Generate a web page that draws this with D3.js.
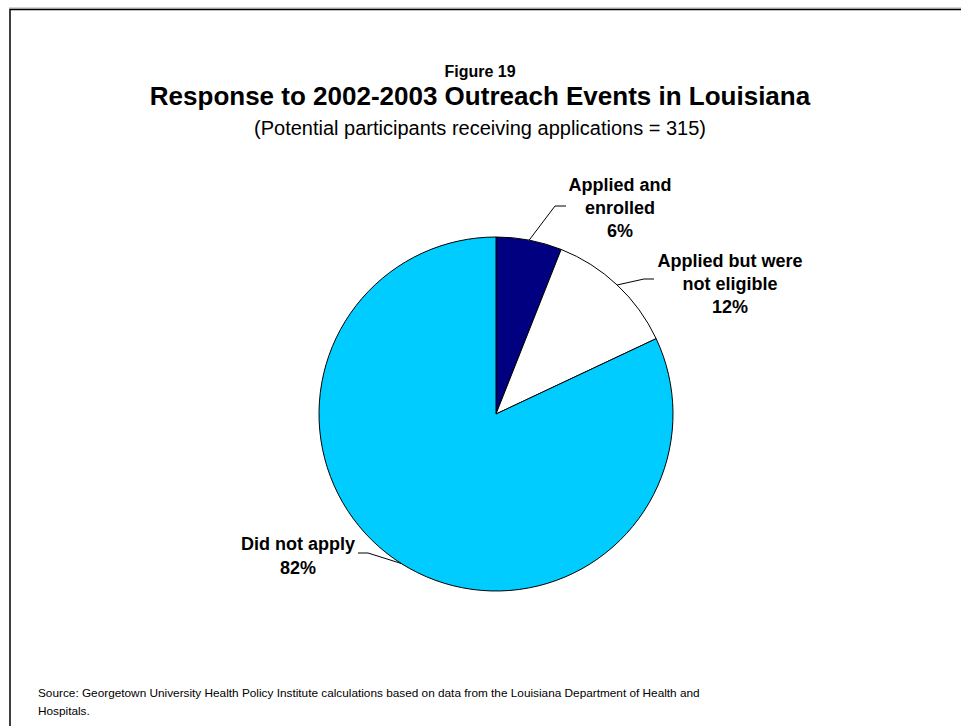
<!DOCTYPE html>
<html>
<head>
<meta charset="utf-8">
<script src="https://cdn.jsdelivr.net/npm/d3@7"></script>
<style>
  html, body { margin: 0; padding: 0; background: #fff; }
  svg { display: block; }
  text { font-family: Arial, "Liberation Sans", Helvetica, sans-serif; fill: #000; }
</style>
</head>
<body>
<svg id="chart" width="961" height="726"></svg>
<script>
// Response categories, in clockwise order from 12 o'clock
const categories = ["Applied and enrolled", "Applied but were not eligible", "Did not apply"];
const shares = [6, 12, 82];
const sliceColors = ["#000080", "#ffffff", "#00ccff"];
// Label lines shown beside each slice
const labelLines = [
  ["Applied and", "enrolled", "6%"],
  ["Applied but were", "not eligible", "12%"],
  ["Did not apply", "82%"]
];

const svg = d3.select("#chart");

// Page frame
svg.append("line").attr("x1", 9).attr("x2", 961).attr("y1", 8).attr("y2", 8)
  .attr("stroke", "#aaa").attr("stroke-width", 1);
svg.append("rect").attr("x", 10).attr("y", 9.5).attr("width", 960).attr("height", 730)
  .attr("fill", "none").attr("stroke", "#000").attr("stroke-width", 1.5);

// Titles
svg.append("text").attr("x", 480).attr("y", 77).attr("text-anchor", "middle")
  .attr("font-size", 16).attr("font-weight", "bold").text("Figure 19");
svg.append("text").attr("x", 480).attr("y", 105).attr("text-anchor", "middle")
  .attr("font-size", 26).attr("font-weight", "bold")
  .text("Response to 2002-2003 Outreach Events in Louisiana");
svg.append("text").attr("x", 480).attr("y", 135).attr("text-anchor", "middle")
  .attr("font-size", 20)
  .text("(Potential participants receiving applications = 315)");

// Pie
const cx = 496, cy = 414, r = 177;
const data = categories.map((c, i) => ({ name: c, value: shares[i], color: sliceColors[i], lines: labelLines[i] }));
const pie = d3.pie().value(d => d.value).sort(null);
const arcs = pie(data);
const arc = d3.arc().innerRadius(0).outerRadius(r);

const g = svg.append("g").attr("transform", `translate(${cx},${cy})`);
g.selectAll("path.slice").data(arcs).join("path")
  .attr("class", "slice")
  .attr("d", arc)
  .attr("fill", d => d.data.color)
  .attr("stroke", "#000")
  .attr("stroke-width", 1);

// Label placement: text centre, first baseline, line gap, leader elbow and horizontal end
const labelPos = [
  { x: 620, y: 191, gap: 23, elbow: [555, 206], end: [566, 206] },
  { x: 730, y: 267, gap: 23, elbow: [644, 279], end: [654, 279] },
  { x: 298, y: 550, gap: 24, elbow: [368, 553], end: [358, 553] }
];

arcs.forEach((a, i) => {
  const p = labelPos[i];
  // leader attaches to the rim at the slice's mid-angle
  const ang = (a.startAngle + a.endAngle) / 2;
  const rx = cx + r * Math.sin(ang), ry = cy - r * Math.cos(ang);
  svg.append("polyline")
    .attr("points", [[rx, ry], p.elbow, p.end].map(q => q.join(",")).join(" "))
    .attr("fill", "none").attr("stroke", "#000").attr("stroke-width", 1);
  const t = svg.append("text").attr("text-anchor", "middle")
    .attr("font-size", 18).attr("font-weight", "bold");
  a.data.lines.forEach((ln, k) => {
    t.append("tspan").attr("x", p.x).attr("y", p.y + k * p.gap).text(ln);
  });
});

// Source note
const src = svg.append("text").attr("font-size", 11.8);
src.append("tspan").attr("x", 38).attr("y", 697)
  .text("Source: Georgetown University Health Policy Institute calculations based on data from the Louisiana Department of Health and");
src.append("tspan").attr("x", 38).attr("y", 715).text("Hospitals.");
</script>
</body>
</html>
